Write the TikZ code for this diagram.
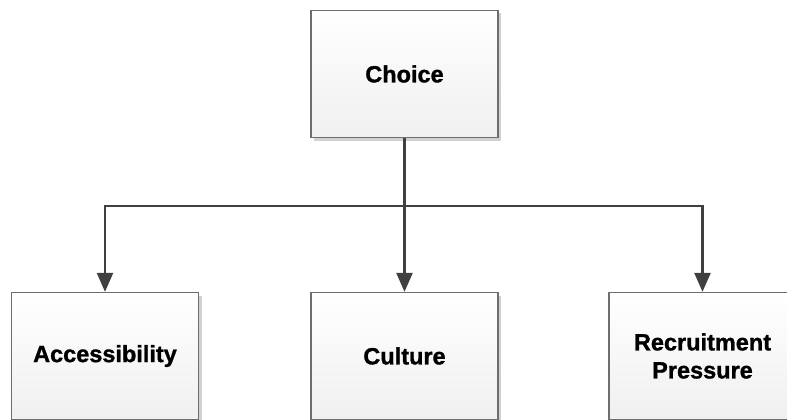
\documentclass[tikz,border=0pt]{standalone}
\usepackage{fontspec}
\setmainfont{Liberation Sans}
\newfontfamily\heavyfont{Liberation Sans Bold}[FakeBold=1.2]
\usetikzlibrary{arrows.meta,shadows}
\definecolor{linegray}{HTML}{404040}
\definecolor{edgegray}{HTML}{6E6E6E}
\tikzset{
  box/.style={draw=edgegray,line width=1.3pt,top color=white,bottom color=black!6,
    minimum width=187pt,minimum height=127pt,inner sep=0pt,align=center,
    font=\heavyfont\fontsize{23.5}{28}\selectfont,
    drop shadow={shadow xshift=3pt,shadow yshift=-3pt,fill=black!18,opacity=1}},
  arr/.style={draw=linegray,line width=2.4pt,-{Triangle[width=16pt,length=19pt]}},
  link/.style={draw=linegray,line width=2.4pt}
}
\begin{document}
\begin{tikzpicture}[x=1pt,y=-1pt]
                \useasboundingbox (0,0) rectangle (787,420);
                \node[box] (choice) at (404.5,74) {Choice};
                \node[box] (access) at (105,356) {Accessibility};
                \node[box] (culture) at (404.5,356) {Culture};
                \node[box] (press) at (702.5,356) {Recruitment\\Pressure};
                \coordinate (bar) at (404.5,206);
                \draw[link] (choice) -- (bar);
                \draw[arr] (bar) -| (access);
                \draw[arr] (bar) -- (culture);
                \draw[arr] (bar) -| (press);
            \end{tikzpicture}
\end{document}
